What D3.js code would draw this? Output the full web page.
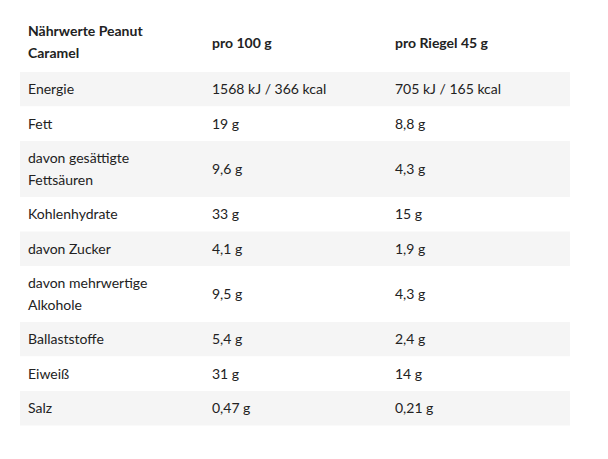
<!DOCTYPE html>
<html lang="de">
<head>
<meta charset="utf-8">
<script src="https://d3js.org/d3.v7.min.js"></script>
<style>
  body { margin: 0; background: #fff; }
  text { font-family: Lato, "Open Sans", sans-serif; fill: #222; }
</style>
</head>
<body>
<svg id="tbl" width="608" height="459"></svg>
<script>
// table content
var headers = [["Nährwerte Peanut", "Caramel"], ["pro 100 g"], ["pro Riegel 45 g"]];
var labels = [["Energie"], ["Fett"], ["davon gesättigte", "Fettsäuren"], ["Kohlenhydrate"], ["davon Zucker"],
              ["davon mehrwertige", "Alkohole"], ["Ballaststoffe"], ["Eiweiß"], ["Salz"]];
var per100 = ["1568 kJ / 366 kcal", "19 g", "9,6 g", "33 g", "4,1 g", "9,5 g", "5,4 g", "31 g", "0,47 g"];
var perBar = ["705 kJ / 165 kcal", "8,8 g", "4,3 g", "15 g", "1,9 g", "4,3 g", "2,4 g", "14 g", "0,21 g"];

var svg = d3.select("#tbl");
var tblLeft = 20, tblRight = 570, tblTop = 20, headH = 52;
var colX = [28, 212, 395];
var lineH = 22;

// row y positions from line counts
var yPos = tblTop + headH;
var rows = labels.map(function(l, i) {
  var h = l.length > 1 ? 56 : 34.5;
  var r = {label: l, a: per100[i], b: perBar[i], y: yPos, h: h, i: i};
  yPos += h;
  return r;
});

// header
var hg = svg.append("g");
headers.forEach(function(h, j) {
  var t = hg.append("text").attr("x", colX[j]).attr("font-weight", "bold").attr("font-size", 14);
  h.forEach(function(line, k) {
    var y0 = h.length > 1 ? tblTop + 16 + k * lineH : tblTop + 28;
    t.append("tspan").attr("x", colX[j]).attr("y", y0).text(line);
  });
});

var g = svg.selectAll("g.row").data(rows).enter().append("g").attr("class", "row");
g.append("rect")
  .attr("x", tblLeft).attr("width", tblRight - tblLeft)
  .attr("y", function(d) { return d.y; }).attr("height", function(d) { return d.h; })
  .attr("fill", function(d) { return d.i % 2 === 0 ? "#f5f5f5" : "#fff"; });

g.each(function(d) {
  var sel = d3.select(this);
  var mid = d.y + d.h / 2 + 5;
  var t = sel.append("text").attr("font-size", 14);
  d.label.forEach(function(line, k) {
    var yy = d.label.length > 1 ? d.y + 22 + k * lineH : mid;
    t.append("tspan").attr("x", colX[0]).attr("y", yy).text(line);
  });
  sel.append("text").attr("font-size", 14).attr("x", colX[1]).attr("y", mid).text(d.a);
  sel.append("text").attr("font-size", 14).attr("x", colX[2]).attr("y", mid).text(d.b);
});
</script>
</body>
</html>
